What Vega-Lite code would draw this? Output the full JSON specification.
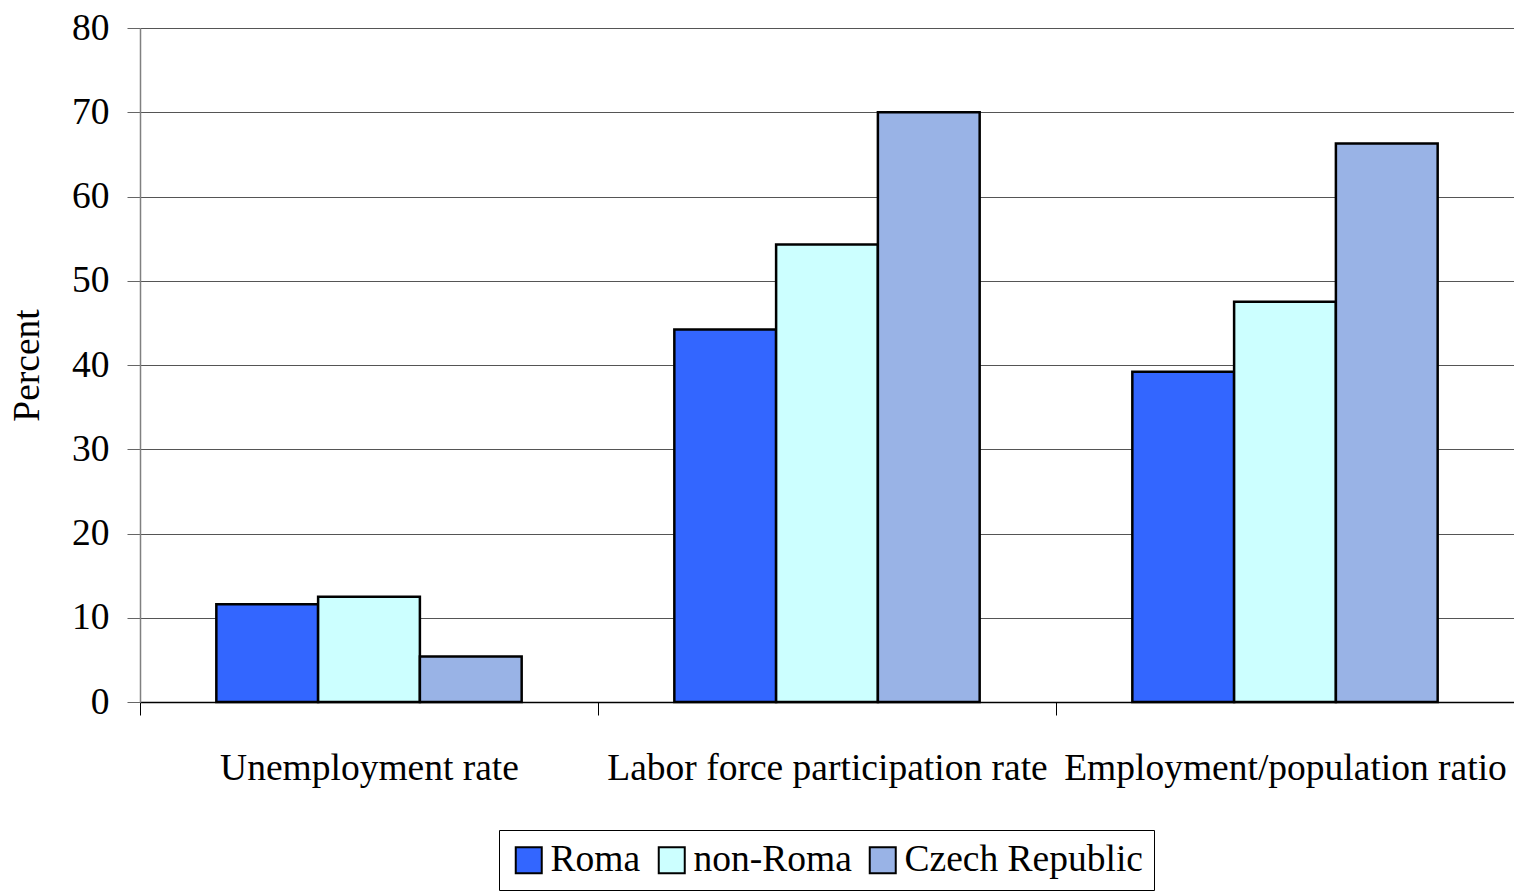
{
  "$schema": "https://vega.github.io/schema/vega-lite/v6.json",
  "width": 1374,
  "height": 674,
  "autosize": "none",
  "padding": {"left": 140, "top": 28, "right": 0, "bottom": 190},
  "background": "white",
  "data": {
    "values": [
      {"measure": "Unemployment rate", "group": "Roma", "value": 11.6},
      {"measure": "Unemployment rate", "group": "non-Roma", "value": 12.5},
      {"measure": "Unemployment rate", "group": "Czech Republic", "value": 5.4},
      {"measure": "Labor force participation rate", "group": "Roma", "value": 44.2},
      {"measure": "Labor force participation rate", "group": "non-Roma", "value": 54.3},
      {"measure": "Labor force participation rate", "group": "Czech Republic", "value": 70.0},
      {"measure": "Employment/population ratio", "group": "Roma", "value": 39.2},
      {"measure": "Employment/population ratio", "group": "non-Roma", "value": 47.5},
      {"measure": "Employment/population ratio", "group": "Czech Republic", "value": 66.3}
    ]
  },
  "mark": {"type": "bar", "stroke": "black", "strokeWidth": 2.5},
  "encoding": {
    "x": {
      "field": "measure",
      "type": "nominal",
      "sort": ["Unemployment rate", "Labor force participation rate", "Employment/population ratio"],
      "scale": {"paddingInner": 0, "paddingOuter": 0},
      "axis": {
        "title": null,
        "labelAngle": 0,
        "labelFont": "Liberation Serif",
        "labelFontSize": 37.5,
        "labelColor": "black",
        "labelLimit": 0,
        "labelOverlap": false,
        "labelPadding": 34,
        "tickBand": "extent",
        "tickSize": 13,
        "tickColor": "black",
        "tickWidth": 1,
        "domainColor": "black",
        "domainWidth": 1.5,
        "grid": false
      }
    },
    "xOffset": {
      "field": "group",
      "type": "nominal",
      "sort": ["Roma", "non-Roma", "Czech Republic"],
      "scale": {"paddingInner": 0, "paddingOuter": 0.75}
    },
    "y": {
      "field": "value",
      "type": "quantitative",
      "scale": {"domain": [0, 80], "nice": false},
      "axis": {
        "title": "Percent",
        "titleFont": "Liberation Serif",
        "titleFontSize": 37.5,
        "titleFontWeight": "normal",
        "titleColor": "black",
        "titlePadding": 25,
        "values": [0, 10, 20, 30, 40, 50, 60, 70, 80],
        "labelFont": "Liberation Serif",
        "labelFontSize": 37.5,
        "labelColor": "black",
        "labelPadding": 18,
        "tickSize": 13,
        "tickColor": "#666666",
        "domainColor": "#808080",
        "domainWidth": 1.5,
        "grid": true,
        "gridColor": "#555555",
        "gridWidth": 1
      }
    },
    "color": {
      "field": "group",
      "type": "nominal",
      "sort": ["Roma", "non-Roma", "Czech Republic"],
      "scale": {
        "domain": ["Roma", "non-Roma", "Czech Republic"],
        "range": ["#3366FF", "#CCFFFF", "#99B3E6"]
      },
      "legend": {
        "title": null,
        "orient": "none",
        "legendX": 359,
        "legendY": 802,
        "direction": "horizontal",
        "symbolType": "square",
        "symbolSize": 676,
        "symbolStrokeColor": "black",
        "symbolStrokeWidth": 2,
        "symbolOpacity": 1,
        "labelFont": "Liberation Serif",
        "labelFontSize": 37.5,
        "labelColor": "black",
        "labelLimit": 400,
        "labelOffset": 3,
        "columnPadding": 12,
        "padding": 11,
        "strokeColor": "black",
        "cornerRadius": 0
      }
    }
  },
  "config": {
    "view": {"stroke": null},
    "legend": {"strokeWidth": 1}
  }
}
